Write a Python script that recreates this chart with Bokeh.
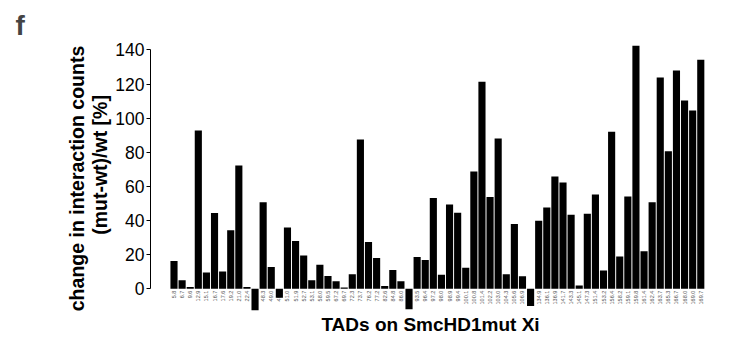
from bokeh.plotting import figure
from bokeh.models import Range1d, FixedTicker, ColumnDataSource
from bokeh.core.properties import value
from bokeh.embed import file_html
from bokeh.resources import INLINE
import numpy as np

# TAD positions (tick labels, Mb) and change in interaction counts (%)
tad_labels = ["5.8", "6.7", "9.6", "12.9", "15.1", "16.7", "17.6", "19.2", "21.0", "22.4",
              "23.1", "48.3", "49.0", "49.6", "51.0", "51.9", "52.7", "53.1", "58.0", "59.5",
              "67.2", "69.7", "72.3", "73.7", "76.2", "77.2", "82.6", "84.8", "86.0", "88.4",
              "93.5", "96.4", "97.2", "98.0", "98.9", "99.4", "100.1", "100.8", "101.4", "102.2",
              "103.0", "104.3", "105.6", "106.9", "108.2", "134.9", "136.1", "136.9", "141.7", "143.3",
              "145.1", "147.3", "151.4", "153.2", "156.4", "158.2", "159.1", "159.8", "161.4", "162.4",
              "163.7", "165.3", "166.7", "168.0", "169.0", "169.7"]
change_pct = [16.2, 4.9, 1.0, 92.7, 9.5, 44.3, 10.1, 34.2, 72.2, 1.0,
              -12.7, 50.6, 12.7, -5.3, 35.9, 27.9, 19.5, 4.9, 14.0, 7.4,
              4.3, 0.6, 8.4, 87.5, 27.3, 17.9, 1.6, 10.9, 4.3, -12.1,
              18.5, 16.8, 53.1, 8.2, 49.4, 44.5, 12.3, 68.7, 121.3, 53.7,
              88.0, 8.4, 37.9, 7.2, -10.2, 39.8, 47.6, 65.8, 62.3, 43.3,
              1.9, 43.9, 55.2, 10.7, 92.0, 18.9, 54.1, 142.5, 22.0, 50.6,
              123.8, 80.6, 127.9, 110.3, 104.5, 134.3]
y_ticks = [0, 20, 40, 60, 80, 100, 120, 140]

xs = list(range(len(tad_labels)))
src = ColumnDataSource(dict(x=xs, top=change_pct, label=tad_labels))

p = figure(width=749, height=350, output_backend="svg", toolbar_location=None,
           x_range=Range1d(-2.9, 66.2), y_range=Range1d(-14, 143.2),
           min_border_left=150, min_border_right=39, min_border_top=44, min_border_bottom=38)
p.outline_line_color = None
p.xgrid.grid_line_color = None
p.ygrid.grid_line_color = None
p.background_fill_color = "white"
p.border_fill_color = "white"

p.title.text = "f"
p.title.text_font = "Liberation Sans"
p.title.text_font_style = "bold"
p.title.text_font_size = "28px"
p.title.align = "left"
p.title.offset = -135
p.title.standoff = 8

# y axis
ya = p.yaxis[0]
ya.ticker = FixedTicker(ticks=y_ticks)
ya.bounds = (0, 140)
ya.major_tick_out = 4
ya.major_tick_in = 0
ya.minor_tick_line_color = None
ya.axis_line_color = "black"
ya.major_tick_line_color = "black"
ya.major_label_text_font = "Liberation Sans"
ya.major_label_text_font_size = "17.5px"
ya.major_label_text_color = "black"
ya.major_label_standoff = 2
ya.axis_label = "change in interaction counts\n\u00a0\u00a0\u00a0\u00a0\u00a0(mut-wt)/wt [%]"
ya.axis_label_text_font = "Liberation Sans"
ya.axis_label_text_font_style = "bold"
ya.axis_label_text_font_size = "19.5px"
ya.axis_label_text_line_height = 1.05
ya.axis_label_text_color = "black"
ya.axis_label_standoff = 1

# x axis (title only)
xa = p.xaxis[0]
xa.ticker = FixedTicker(ticks=[])
xa.axis_line_color = None
xa.major_tick_line_color = None
xa.minor_tick_line_color = None
xa.major_tick_out = 0
xa.major_tick_in = 0
xa.major_label_standoff = 0
xa.axis_label = "TADs on SmcHD1mut Xi"
xa.axis_label_text_font = "Liberation Sans"
xa.axis_label_text_font_style = "bold"
xa.axis_label_text_font_size = "19px"
xa.axis_label_text_color = "black"
xa.axis_label_standoff = 1

# category labels drawn first, bars over them
p.text(x="x", y=-1.2, text="label", source=src, angle=np.pi / 2,
       text_align="right", text_baseline="middle",
       text_font=value("Liberation Sans"), text_font_size="5.5px", text_color="#555555")
p.vbar(x="x", top="top", bottom=0, width=0.88, source=src,
       fill_color="black", line_color=None)

open("out.html", "w").write(file_html(p, INLINE))
